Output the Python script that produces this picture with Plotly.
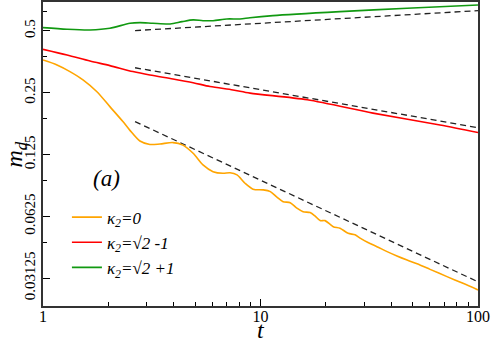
import plotly.graph_objects as go

# values
t_orange = [1.0, 1.16, 1.33, 1.527, 1.77, 2.03, 2.33, 2.51, 2.79, 3.10, 3.45, 3.96, 4.40,
            4.90, 5.44, 6.05, 6.72, 7.24, 7.80, 8.49, 9.24, 10.3, 11.1, 11.9, 12.7, 13.7,
            14.7, 15.7, 16.9, 17.8, 18.8, 19.8, 21.6, 23.2, 25.3, 27.2, 28.7, 31.2, 34.3,
            38.2, 42.4, 47.2, 52.5, 60.2, 72.0, 85.3, 100.0]
m_orange = [0.361, 0.3415, 0.317, 0.289, 0.253, 0.214, 0.181, 0.164, 0.1455, 0.140, 0.1408,
            0.143, 0.139, 0.1268, 0.1113, 0.1032, 0.1013, 0.102, 0.0995, 0.0906, 0.0848,
            0.0841, 0.0825, 0.0775, 0.0737, 0.0729, 0.0685, 0.0659, 0.0652, 0.0628, 0.0596,
            0.0596, 0.0557, 0.0547, 0.0517, 0.0508, 0.0490, 0.0466, 0.0445, 0.0421, 0.0401,
            0.0383, 0.0367, 0.0345, 0.0318, 0.0295, 0.0274]

t_red = [1.0, 1.29, 1.645, 2.03, 2.59, 3.10, 3.96, 4.90, 5.86, 7.47, 8.95, 16.4, 32.9, 66.9, 100.0]
m_red = [0.407, 0.382, 0.357, 0.339, 0.317, 0.305, 0.292, 0.280, 0.268, 0.258, 0.249,
         0.231, 0.199, 0.174, 0.160]

t_green = [1.0, 1.29, 1.645, 2.03, 2.51, 2.79, 3.2, 3.84, 4.36, 4.9, 5.44, 6.05, 7.01,
           8.05, 8.95, 11.4, 23.2, 47.2, 100.0]
m_green = [0.519, 0.5095, 0.5056, 0.515, 0.545, 0.549, 0.545, 0.541, 0.555, 0.566, 0.561,
           0.561, 0.572, 0.572, 0.580, 0.594, 0.621, 0.645, 0.669]

# dashed guide lines (end points)
t_dash = [2.65, 100.0]
m_dash_top = [0.502, 0.628]
m_dash_mid = [0.331, 0.169]
m_dash_low = [0.181, 0.0300]

y_ticks = [0.5, 0.25, 0.125, 0.0625, 0.03125]
y_ticktext = ["0.5", "0.25", "0.125", "0.0625", "0.03125"]
y_minor = [0.625, 0.375, 0.1875, 0.09375, 0.046875]
x_ticks = [1, 10, 100]
x_minor = [2, 3, 4, 5, 6, 7, 8, 9, 20, 30, 40, 50, 60, 70, 80, 90]

serif = "Liberation Serif"

fig = go.Figure()

for m_d in [m_dash_top, m_dash_mid, m_dash_low]:
    fig.add_trace(go.Scatter(x=t_dash, y=m_d, mode="lines", showlegend=False,
                             line=dict(color="#222222", width=1.3, dash="6px,4px")))

fig.add_trace(go.Scatter(x=t_orange, y=m_orange, mode="lines", name="<i>κ<sub>2</sub>=0</i>",
                         line=dict(color="#FFA500", width=1.6, shape="spline", smoothing=0.8)))
fig.add_trace(go.Scatter(x=t_red, y=m_red, mode="lines", name="<i>κ<sub>2</sub>=√2 -1</i>",
                         line=dict(color="#FF0000", width=1.6, shape="spline", smoothing=0.8)))
fig.add_trace(go.Scatter(x=t_green, y=m_green, mode="lines", name="<i>κ<sub>2</sub>=√2 +1</i>",
                         line=dict(color="#119911", width=1.6, shape="spline", smoothing=0.8)))

fig.add_annotation(x=0.145, y=0.421, xref="paper", yref="paper", text="<i>(a)</i>",
                   xanchor="center", yanchor="middle", showarrow=False,
                   font=dict(family=serif, size=23, color="black"))
# axis titles
fig.add_annotation(x=0.5, y=-0.078, xref="paper", yref="paper", text="<i>t</i>",
                   xanchor="center", yanchor="middle", showarrow=False,
                   font=dict(family=serif, size=24, color="black"))
fig.add_annotation(x=-0.063, y=0.497, xref="paper", yref="paper", text="<i>m<sub>d</sub></i>",
                   textangle=-90, xanchor="center", yanchor="middle", showarrow=False,
                   font=dict(family=serif, size=24, color="black"))

fig.update_layout(
    width=491, height=341,
    margin=dict(l=43, r=13, t=2, b=35, autoexpand=False),
    plot_bgcolor="white", paper_bgcolor="white",
    font=dict(family=serif, color="black"),
    legend=dict(x=0.055, y=0.35, xanchor="left", yanchor="top", bgcolor="rgba(0,0,0,0)",
                font=dict(family=serif, size=17), itemwidth=30, tracegroupgap=0),
    xaxis=dict(type="log", range=[0, 2], tickvals=x_ticks, ticktext=["1", "10", "100"],
               ticks="inside", ticklen=7, tickwidth=1.2, tickcolor="black",
               minor=dict(tickvals=x_minor, ticks="inside", ticklen=4, tickcolor="black"),
               showline=True, linecolor="#333333", linewidth=2, mirror=True,
               showgrid=False, zeroline=False, tickfont=dict(size=16),
               ticklabelstandoff=-5, automargin=False),
    yaxis=dict(type="log", range=[-1.6406, -0.160], tickvals=y_ticks, ticktext=y_ticktext,
               tickangle=-90, ticks="inside", ticklen=7, tickwidth=1.2, tickcolor="black",
               minor=dict(tickvals=y_minor, ticks="inside", ticklen=4, tickcolor="black"),
               showline=True, linecolor="#333333", linewidth=2, mirror=True,
               showgrid=False, zeroline=False, tickfont=dict(size=15), automargin=False),
)

# drop the page's default body margin so the figure sits at the window corner
fig.write_html("out.html", config={"displayModeBar": False},
               post_script="document.body.style.margin='0';")
